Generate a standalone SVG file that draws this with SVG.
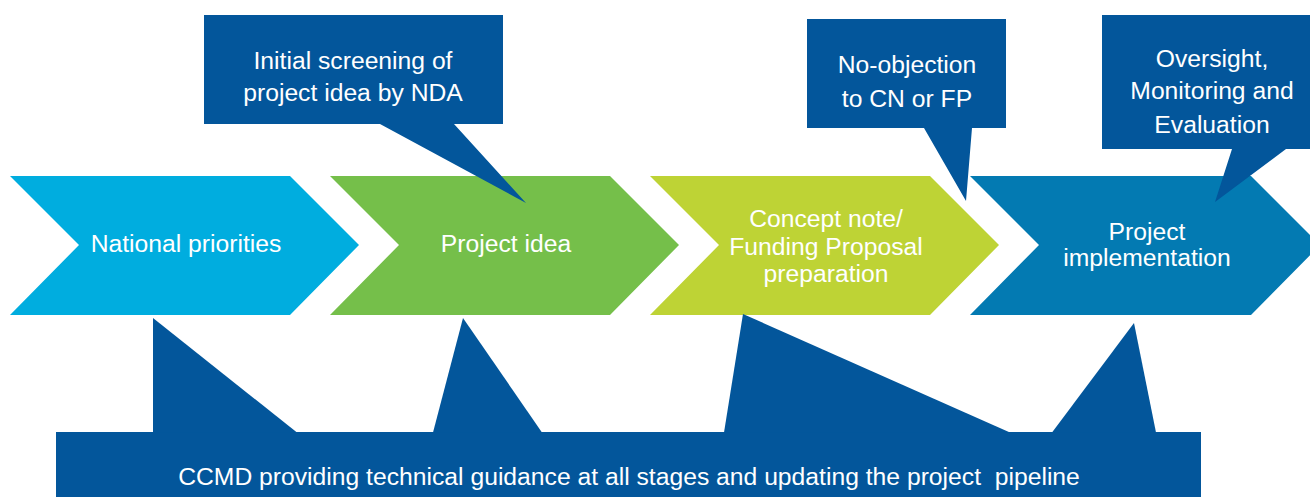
<svg xmlns="http://www.w3.org/2000/svg" width="1310" height="497" viewBox="0 0 1310 497">
<style>
.t{font-family:"Liberation Sans",Arial,sans-serif;font-size:24.7px;fill:#ffffff;text-anchor:middle}
.dk{fill:#03569B}
</style>
<rect width="1310" height="497" fill="#ffffff"/>
<g id="chevron-national-priorities">
<polygon points="10,176 290,176 359,245 290,315 10,315 79,245" fill="#00ADDF"/>
<text class="t" x="186" y="252">National priorities</text>
</g>
<g id="chevron-project-idea">
<polygon points="330,176 610,176 679,245 610,315 330,315 399,245" fill="#75BF4A"/>
<text class="t" x="506" y="252">Project idea</text>
</g>
<g id="chevron-concept-note">
<polygon points="650,176 930,176 999,245 930,315 650,315 719,245" fill="#BED335"/>
<text class="t" x="826" y="227">Concept note/</text>
<text class="t" x="826" y="255">Funding Proposal</text>
<text class="t" x="826" y="282">preparation</text>
</g>
<g id="chevron-project-implementation">
<polygon points="970,176 1251,176 1320,245 1251,315 970,315 1039,245" fill="#037AB2"/>
<text class="t" x="1147" y="240">Project</text>
<text class="t" x="1147" y="266">implementation</text>
</g>
<g id="callout-initial-screening">
<polygon class="dk" points="204,15 503,15 503,124 454,124 526,203 380,124 204,124"/>
<text class="t" x="353" y="69">Initial screening of</text>
<text class="t" x="353" y="101">project idea by NDA</text>
</g>
<g id="callout-no-objection">
<polygon class="dk" points="807,19 1006,19 1006,128 972,128 966,201 924,128 807,128"/>
<text class="t" x="907" y="73">No-objection</text>
<text class="t" x="907" y="107">to CN or FP</text>
</g>
<g id="callout-oversight">
<polygon class="dk" points="1102,15 1310,15 1310,149 1286,149 1215,202 1232,149 1102,149"/>
<text class="t" x="1212" y="67">Oversight,</text>
<text class="t" x="1212" y="99">Monitoring and</text>
<text class="t" x="1212" y="133">Evaluation</text>
</g>
<g id="ccmd-bar">
<rect class="dk" x="56" y="432" width="1145" height="70"/>
<polygon class="dk" points="153,318 297,432.5 153,432.5"/>
<polygon class="dk" points="463,318 542,432.5 433,432.5"/>
<polygon class="dk" points="743,314 1010,432.5 724,432.5"/>
<polygon class="dk" points="1134,323 1156,432.5 1052,432.5"/>
<text class="t" x="629" y="485" xml:space="preserve" style="white-space:pre">CCMD providing technical guidance at all stages and updating the project  pipeline</text>
</g>
<g id="connectors"></g>
</svg>
